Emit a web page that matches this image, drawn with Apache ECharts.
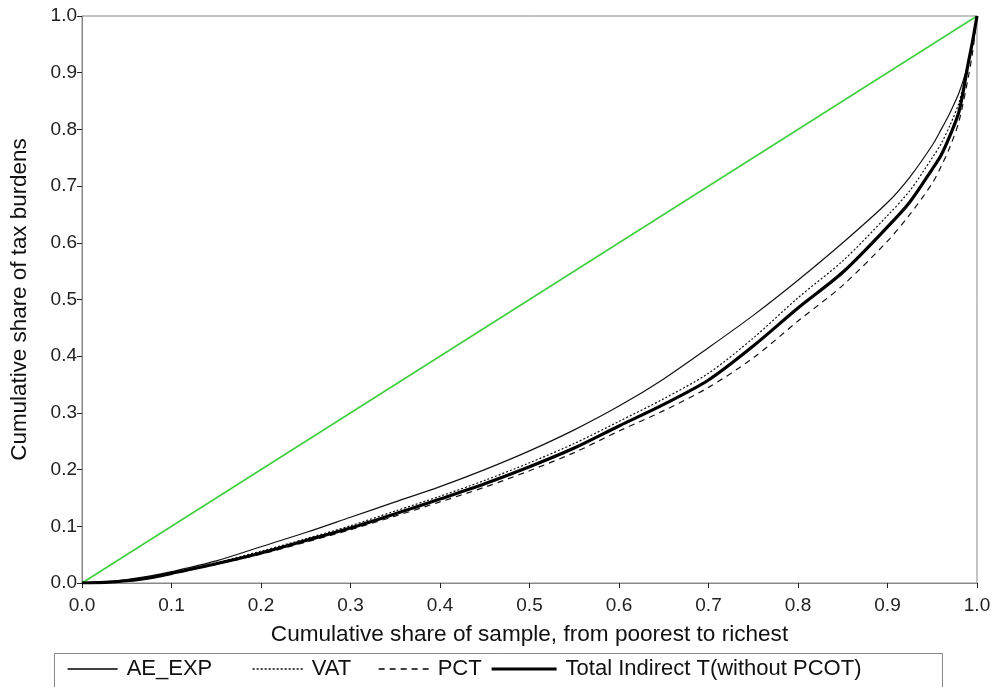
<!DOCTYPE html>
<html>
<head>
<meta charset="utf-8">
<script src="https://cdn.jsdelivr.net/npm/echarts@6/dist/echarts.min.js"></script>
<style>
html,body{margin:0;padding:0;background:#fff;}
#chart{width:995px;height:687px;}
</style>
</head>
<body>
<div id="chart"></div>
<script>
// Cumulative share of sample (x)
const shareX = [0, 0.025, 0.05, 0.075, 0.1, 0.15, 0.2, 0.25, 0.3, 0.35, 0.4, 0.45, 0.5, 0.55, 0.6, 0.65, 0.7, 0.75, 0.8, 0.85, 0.9, 0.925, 0.95, 0.96, 0.97, 0.98, 0.99, 0.995, 1.0];
// Concentration curves (y)
const aeExp = [0, 0.002, 0.006, 0.012, 0.020, 0.039, 0.064, 0.089, 0.116, 0.143, 0.170, 0.200, 0.233, 0.270, 0.312, 0.360, 0.415, 0.472, 0.534, 0.600, 0.671, 0.716, 0.772, 0.800, 0.830, 0.865, 0.915, 0.950, 1.0];
const vat = [0, 0.001, 0.005, 0.010, 0.018, 0.036, 0.056, 0.078, 0.101, 0.127, 0.153, 0.181, 0.212, 0.246, 0.285, 0.325, 0.370, 0.432, 0.503, 0.568, 0.648, 0.692, 0.750, 0.775, 0.808, 0.848, 0.915, 0.950, 1.0];
const pct = [0, 0.001, 0.004, 0.009, 0.016, 0.033, 0.051, 0.072, 0.094, 0.118, 0.143, 0.169, 0.198, 0.230, 0.268, 0.304, 0.345, 0.397, 0.462, 0.525, 0.603, 0.650, 0.705, 0.735, 0.770, 0.815, 0.890, 0.935, 1.0];
const totalIndirect = [0, 0.001, 0.004, 0.009, 0.017, 0.034, 0.053, 0.075, 0.097, 0.122, 0.148, 0.175, 0.205, 0.238, 0.277, 0.315, 0.358, 0.418, 0.485, 0.548, 0.628, 0.672, 0.730, 0.755, 0.790, 0.832, 0.915, 0.955, 1.0];
// 45-degree line of equality
const equalityX = [0, 1];
const equalityY = [0, 1];

const seriesNames = ['AE_EXP', 'VAT', 'PCT', 'Total Indirect T(without PCOT)'];
const xAxisName = 'Cumulative share of sample, from poorest to richest';
const yAxisName = 'Cumulative share of tax burdens';

function pairs(xs, ys) { return xs.map((x, i) => [x, ys[i]]); }

const FONT = '"Liberation Sans", Arial, sans-serif';
const chart = echarts.init(document.getElementById('chart'), null, {renderer: 'canvas'});

const legendBase = {
  orient: 'horizontal',
  top: 658,
  itemWidth: 50,
  itemHeight: 14,
  itemGap: 0,
  padding: 0,
  itemStyle: {color: 'transparent', borderWidth: 0, opacity: 0},
  lineStyle: {width: 1.3, color: '#000'},
  textStyle: {fontFamily: FONT, fontSize: 22, color: '#111', padding: [0, 0, 0, 4]}
};

chart.setOption({
  animation: false,
  backgroundColor: '#fff',
  grid: {left: 82, top: 16, right: 18, bottom: 104, show: true, borderColor: '#888', borderWidth: 1, backgroundColor: 'transparent'},
  xAxis: {
    type: 'value', min: 0, max: 1, interval: 0.1,
    name: xAxisName, nameLocation: 'middle', nameGap: 40,
    nameTextStyle: {fontFamily: FONT, fontSize: 22.6, color: '#111'},
    axisLine: {show: true, lineStyle: {color: '#888', width: 1}},
    axisTick: {show: true, inside: false, length: 5, lineStyle: {color: '#222'}},
    axisLabel: {fontFamily: FONT, fontSize: 19, color: '#222', margin: 13, formatter: v => v.toFixed(1)},
    splitLine: {show: false}
  },
  yAxis: {
    type: 'value', min: 0, max: 1, interval: 0.1,
    name: yAxisName, nameLocation: 'middle', nameGap: 51, nameRotate: 90,
    nameTextStyle: {fontFamily: FONT, fontSize: 22.4, color: '#111'},
    axisLine: {show: true, lineStyle: {color: '#888', width: 1}},
    axisTick: {show: true, inside: false, length: 5, lineStyle: {color: '#222'}},
    axisLabel: {fontFamily: FONT, fontSize: 19, color: '#222', margin: 5, formatter: v => v.toFixed(1)},
    splitLine: {show: false}
  },
  legend: [
    Object.assign({}, legendBase, {left: 67, data: [seriesNames[0]]}),
    Object.assign({}, legendBase, {left: 252, data: [seriesNames[1]]}),
    Object.assign({}, legendBase, {left: 378, data: [seriesNames[2]]}),
    Object.assign({}, legendBase, {left: 490, itemWidth: 65, lineStyle: {width: 3.2, color: '#000'}, data: [seriesNames[3]]})
  ],
  graphic: [{
    type: 'rect', left: 52, top: 651, silent: true,
    shape: {width: 888, height: 50},
    style: {fill: 'none', stroke: '#888', lineWidth: 1}
  }],
  series: [
    {name: 'equality', type: 'line', data: pairs(equalityX, equalityY), symbol: 'none', lineStyle: {color: '#3fcf3f', width: 1.6}, z: 1},
    {name: seriesNames[0], type: 'line', data: pairs(shareX, aeExp), symbol: 'none', smooth: 0.3, color: '#111', lineStyle: {color: '#111', width: 1.2, type: 'solid'}},
    {name: seriesNames[1], type: 'line', data: pairs(shareX, vat), symbol: 'none', smooth: 0.3, color: '#111', lineStyle: {color: '#111', width: 1.2, type: [2, 2]}},
    {name: seriesNames[2], type: 'line', data: pairs(shareX, pct), symbol: 'none', smooth: 0.3, color: '#111', lineStyle: {color: '#111', width: 1.2, type: [6, 5]}},
    {name: seriesNames[3], type: 'line', data: pairs(shareX, totalIndirect), symbol: 'none', smooth: 0.3, color: '#000', lineStyle: {color: '#000', width: 3.2, type: 'solid'}}
  ]
});
</script>
</body>
</html>
